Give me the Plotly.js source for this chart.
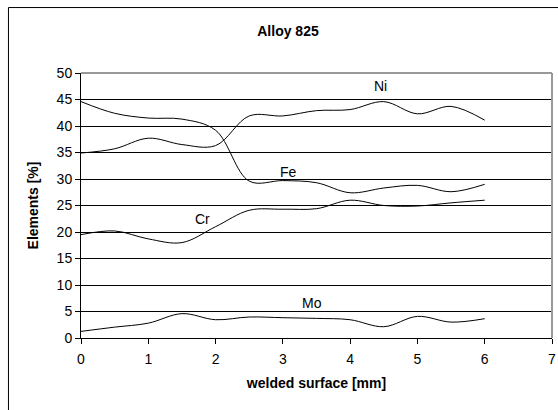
<!DOCTYPE html>
<html>
<head>
<meta charset="utf-8">
<script src="https://cdn.plot.ly/plotly-3.0.1.min.js"></script>
<style>
html,body{margin:0;padding:0;background:#fff;}
#chart{width:558px;height:410px;}
</style>
</head>
<body>
<div id="chart"></div>
<script>
// Data
const distance = [0, 0.5, 1, 1.5, 2, 2.5, 3, 3.5, 4, 4.5, 5, 5.5, 6];
const ni = [34.9, 35.7, 37.7, 36.5, 36.3, 41.9, 41.9, 42.9, 43.1, 44.6, 42.3, 43.7, 41.1];
const fe = [44.6, 42.4, 41.5, 41.3, 39.2, 29.6, 29.7, 29.3, 27.4, 28.3, 28.8, 27.6, 29.0];
const cr = [19.5, 20.2, 18.7, 18.0, 21.0, 24.1, 24.3, 24.4, 26.0, 25.0, 24.9, 25.5, 26.0];
const mo = [1.25, 2.05, 2.8, 4.6, 3.45, 3.96, 3.83, 3.7, 3.45, 2.13, 4.08, 3.0, 3.64];
const seriesNames = ['Ni', 'Fe', 'Cr', 'Mo'];
const labelX = [4.45, 3.09, 1.80, 3.44];
const labelY = [47.5, 31.3, 22.5, 6.6];
const xTicks = [0, 1, 2, 3, 4, 5, 6, 7];
const yTicks = [0, 5, 10, 15, 20, 25, 30, 35, 40, 45, 50];

const FONT = 'Liberation Sans, Arial, sans-serif';
const values = [ni, fe, cr, mo];

const traces = values.map((v, i) => ({
  x: distance, y: v, name: seriesNames[i], type: 'scatter', mode: 'lines',
  line: {color: '#000', width: 1, shape: 'spline', smoothing: 1},
  hoverinfo: 'none'
}));

const annotations = seriesNames.map((n, i) => ({
  x: labelX[i], y: labelY[i], xref: 'x', yref: 'y', text: n, showarrow: false,
  font: {family: FONT, size: 14, color: '#000'}
}));

const layout = {
  width: 558, height: 410,
  margin: {l: 81, r: 6, t: 73, b: 72},
  paper_bgcolor: '#fff', plot_bgcolor: '#fff',
  showlegend: false,
  font: {family: FONT, size: 13, color: '#000'},
  title: {text: '<b>Alloy 825</b>', font: {family: FONT, size: 14, color: '#000'},
          x: 288/558, xref: 'container', xanchor: 'center',
          y: 1 - 31/410, yref: 'container', yanchor: 'middle'},
  xaxis: {
    range: [0, 7], tickvals: xTicks, ticktext: xTicks.map(String),
    showgrid: false, zeroline: false,
    showline: true, linecolor: '#000', linewidth: 1,
    ticks: 'outside', ticklen: 5, tickcolor: '#000', tickwidth: 1,
    ticklabelstandoff: 3,
    tickfont: {family: FONT, size: 14, color: '#000'},
    title: {text: '<b>welded surface [mm]</b>', font: {family: FONT, size: 14, color: '#000'}, standoff: 12}
  },
  yaxis: {
    range: [0, 50], tickvals: yTicks, ticktext: yTicks.map(String),
    showgrid: true, gridcolor: '#000', gridwidth: 1, zeroline: false,
    showline: true, linecolor: '#000', linewidth: 1,
    ticks: 'outside', ticklen: 5, tickcolor: '#000', tickwidth: 1,
    tickfont: {family: FONT, size: 14, color: '#000'},
    title: {text: '<b>Elements [%]</b>', font: {family: FONT, size: 14, color: '#000'}, standoff: 14}
  },
  annotations: annotations,
  shapes: [
    {type: 'rect', xref: 'paper', yref: 'paper', x0: -0.154, x1: 2, y0: -1, y1: 1.247,
     line: {color: '#000', width: 1}, fillcolor: 'rgba(0,0,0,0)', layer: 'above'},
    {type: 'line', xref: 'paper', yref: 'paper', x0: 0, x1: 1, y0: 1, y1: 1,
     line: {color: '#333', width: 1}},
    {type: 'line', xref: 'paper', yref: 'paper', x0: 1, x1: 1, y0: 0, y1: 1,
     line: {color: '#999', width: 2}}
  ]
};

Plotly.newPlot('chart', traces, layout, {displayModeBar: false, staticPlot: true});
</script>
</body>
</html>
